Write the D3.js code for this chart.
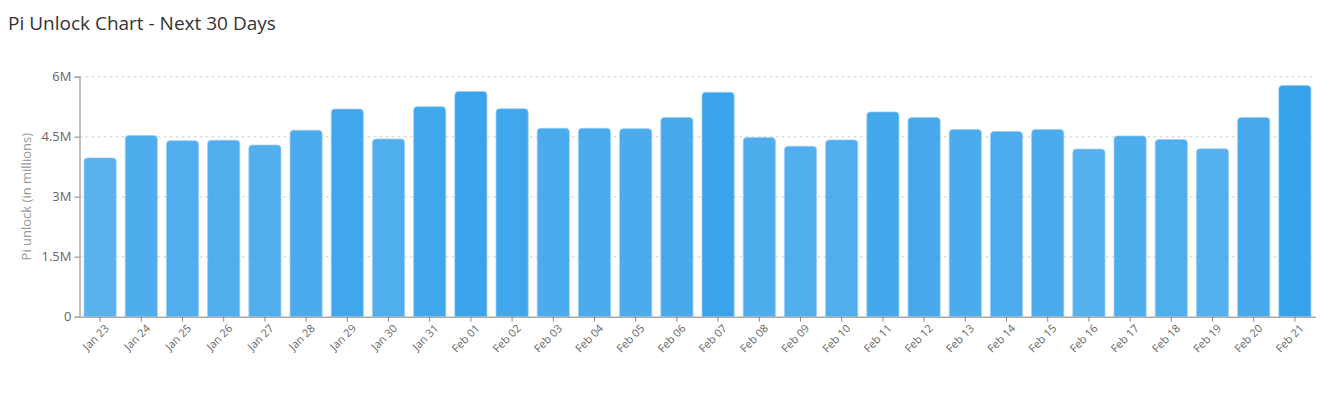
<!DOCTYPE html>
<html>
<head>
<meta charset="utf-8">
<script src="https://cdn.jsdelivr.net/npm/d3@7"></script>
<style>
  html, body { margin: 0; padding: 0; background: #fff; }
  svg { display: block; font-family: "Open Sans", "Noto Sans", sans-serif; }
</style>
</head>
<body>
<svg id="chart" width="1340" height="409"></svg>
<script>
const categories = ["Jan 23","Jan 24","Jan 25","Jan 26","Jan 27","Jan 28","Jan 29","Jan 30","Jan 31",
  "Feb 01","Feb 02","Feb 03","Feb 04","Feb 05","Feb 06","Feb 07","Feb 08","Feb 09","Feb 10","Feb 11",
  "Feb 12","Feb 13","Feb 14","Feb 15","Feb 16","Feb 17","Feb 18","Feb 19","Feb 20","Feb 21"];
const unlockValues = [3.97,4.53,4.40,4.41,4.29,4.66,5.19,4.44,5.25,
  5.63,5.20,4.71,4.71,4.70,4.98,5.61,4.48,4.26,4.42,5.12,
  4.98,4.68,4.63,4.68,4.19,4.52,4.43,4.20,4.98,5.78];
const yTicks = [0, 1.5, 3, 4.5, 6];
const yTickLabels = ["0", "1.5M", "3M", "4.5M", "6M"];
const titleText = "Pi Unlock Chart - Next 30 Days";
const yAxisTitle = "Pi unlock (in millions)";

const svg = d3.select("#chart");
const margin = { left: 79.5, right: 24.5, top: 76.7, bottom: 92.3 };
const W = 1340, H = 409;

const x = d3.scaleBand().domain(categories).range([margin.left, W - margin.right])
  .paddingInner(0.22).paddingOuter(0.11);
const y = d3.scaleLinear().domain([0, 6]).range([H - margin.bottom, margin.top]);
const op = d3.scaleLinear().domain(d3.extent(unlockValues)).range([0.83, 1]);

// title
svg.append("text").attr("x", 8).attr("y", 30)
  .attr("font-size", 19).attr("fill", "#333").text(titleText);

// gridlines
svg.append("g").selectAll("line").data(yTicks.filter(d => d > 0)).join("line")
  .attr("x1", margin.left).attr("x2", W - margin.right)
  .attr("y1", d => y(d)).attr("y2", d => y(d))
  .attr("stroke", "#e0e0e0").attr("stroke-width", 1.5).attr("stroke-dasharray", "3,3");

// bars
const r = 3.5;
function barPath(x0, y0, w, h) {
  return `M${x0},${y0 + h} L${x0},${y0 + r} Q${x0},${y0} ${x0 + r},${y0} L${x0 + w - r},${y0} Q${x0 + w},${y0} ${x0 + w},${y0 + r} L${x0 + w},${y0 + h} Z`;
}
svg.append("g").selectAll("path").data(categories).join("path")
  .attr("d", (c, i) => barPath(x(c), y(unlockValues[i]), x.bandwidth(), y(0) - y(unlockValues[i])))
  .attr("fill", "rgb(54,162,235)")
  .attr("fill-opacity", (c, i) => op(unlockValues[i]))
  .attr("stroke", "rgba(150,205,245,0.9)").attr("stroke-width", 0.8);

// y axis
const yAxis = d3.axisLeft(y).tickValues(yTicks).tickFormat((d, i) => yTickLabels[i]).tickSize(5).tickPadding(3);
const gy = svg.append("g").attr("transform", `translate(${margin.left},0)`).call(yAxis);
gy.select(".domain").attr("stroke", "#aaa").attr("stroke-width", 1.5);
gy.selectAll(".tick line").attr("stroke", "#aaa").attr("stroke-width", 1.5);
gy.selectAll(".tick text").attr("font-size", 13).attr("fill", "#666")
  .attr("font-family", "'Open Sans', 'Noto Sans', sans-serif");

// x axis
const xAxis = d3.axisBottom(x).tickSize(5).tickSizeOuter(0);
const gx = svg.append("g").attr("transform", `translate(0,${y(0)})`).call(xAxis);
gx.select(".domain").attr("stroke", "#aaa").attr("stroke-width", 1.5);
gx.selectAll(".tick line").attr("stroke", "#888").attr("stroke-width", 1);
gx.selectAll(".tick text").attr("font-size", 11).attr("fill", "#666")
  .attr("font-family", "'Open Sans', 'Noto Sans', sans-serif")
  .attr("text-anchor", "end")
  .attr("transform", "translate(4,4) rotate(-45)")
  .attr("dy", "0.35em").attr("y", 6).attr("x", -2);

// y axis title
svg.append("text")
  .attr("transform", `translate(31,${(y(0) + y(6)) / 2}) rotate(-90)`)
  .attr("text-anchor", "middle").attr("font-size", 13).attr("fill", "#999")
  .text(yAxisTitle);
</script>
</body>
</html>
